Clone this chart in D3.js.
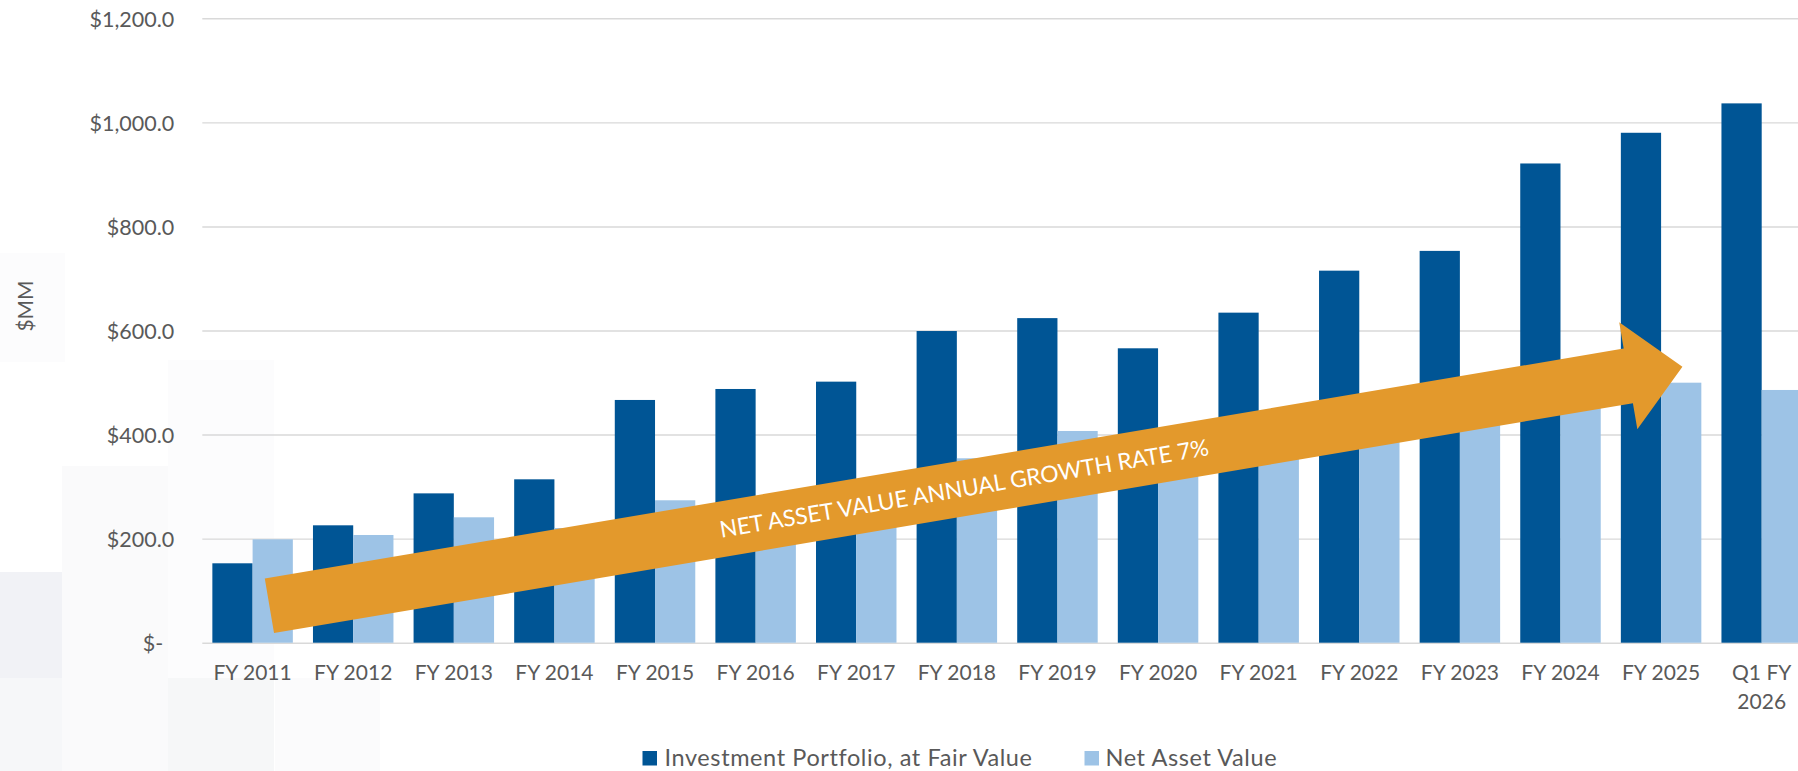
<!DOCTYPE html>
<html>
<head>
<meta charset="utf-8">
<script src="https://cdn.jsdelivr.net/npm/d3@7"></script>
<style>
  html, body { margin: 0; padding: 0; background: #ffffff; overflow: hidden; }
  svg { display: block; }
  text { font-family: "Lato", "Open Sans", sans-serif; }
</style>
</head>
<body>
<svg id="chart" width="1798" height="771"></svg>
<script>
// ---------------- DATA ----------------
const categories = ["FY 2011","FY 2012","FY 2013","FY 2014","FY 2015","FY 2016","FY 2017","FY 2018",
                    "FY 2019","FY 2020","FY 2021","FY 2022","FY 2023","FY 2024","FY 2025","Q1 FY 2026"];
const investmentPortfolio = [152.6, 225.6, 287.0, 314.0, 466.5, 487.6, 501.7, 599.0,
                             623.8, 565.8, 634.3, 715.0, 753.0, 921.0, 980.0, 1036.5];
const netAssetValue       = [198.7, 207.0, 241.0, 220.4, 273.7, 270.0, 300.0, 354.4,
                             406.9, 380.0, 410.0, 435.0, 435.0, 482.0, 499.7, 485.7];
const seriesNames = ["Investment Portfolio, at Fair Value", "Net Asset Value"];
const yTicks = [0, 200, 400, 600, 800, 1000, 1200];
const yAxisTitle = "$MM";
const arrowLabel = "NET ASSET VALUE ANNUAL GROWTH RATE 7%";
// annotation arrow anchored in data space: category + fraction of step, value
const arrowFrom = { cat: "FY 2011", off: 0.167, value: 71 };
const arrowTo   = { cat: "FY 2025", off: 0.212, value: 530.5 };

// ---------------- STYLE ----------------
const colors = ["#005595", "#9DC3E6"];
const arrowColor = "#E3992C";
const textColor = "#595959";
const gridColor = "#D9D9D9";

const svg = d3.select("#chart");
const W = 1798, H = 771;

// faint background blocks (decorative)
const bg = svg.append("g");
[[0,572,62,106,"#F1F2F6"],[0,678,62,93,"#F6F7F9"],[62,466,106,305,"#FAFAFB"],
 [168,678,106,93,"#F6F7F8"],[168,360,106,318,"#FCFCFD"],[0,253,65,109,"#FCFCFD"],
 [275,678,105,93,"#FBFBFC"]].forEach(r => {
  bg.append("rect").attr("x", r[0]).attr("y", r[1]).attr("width", r[2]).attr("height", r[3]).attr("fill", r[4]);
});

// scales
const x0 = d3.scaleBand().domain(categories).range([202.3, 1812]).paddingInner(0.2).paddingOuter(0.1);
const x1 = d3.scaleBand().domain([0, 1]).range([0, x0.bandwidth()]).padding(0);
const y = d3.scaleLinear().domain([0, 1200]).range([642.7, 18.3]);

// y axis with gridlines
const plotLeft = 202.3;
const yAxis = d3.axisLeft(y).tickValues(yTicks)
  .tickFormat(d => d === 0 ? "$-" : d3.format("$,.1f")(d))
  .tickSize(-(W - plotLeft)).tickPadding(28);
const gy = svg.append("g").attr("transform", `translate(${plotLeft},0)`).call(yAxis);
gy.select(".domain").remove();
gy.selectAll(".tick line").attr("stroke", gridColor).attr("stroke-width", 1.4);
gy.selectAll(".tick text").attr("fill", textColor).style("font-size", "21.5px")
  .attr("dy", "0.36em")
  .attr("dx", d => d === 0 ? -11 : 0);

// y title
svg.append("text").attr("transform", "translate(25,306) rotate(-90)")
  .attr("text-anchor", "middle").attr("dy", "0.36em")
  .attr("fill", textColor).style("font-size", "21px").text(yAxisTitle);

// bars
const rows = categories.map((c, i) => ({ cat: c, vals: [investmentPortfolio[i], netAssetValue[i]] }));
const groups = svg.append("g").selectAll("g").data(rows).join("g")
  .attr("transform", d => `translate(${x0(d.cat)},0)`);
groups.selectAll("rect").data(d => d.vals.map((v, k) => ({ k, v }))).join("rect")
  .attr("x", d => x1(d.k)).attr("width", x1.bandwidth())
  .attr("y", d => y(d.v)).attr("height", d => y(0) - y(d.v))
  .attr("fill", d => colors[d.k]);

// x axis labels
const xAxis = d3.axisBottom(x0).tickSize(0).tickPadding(0);
const gx = svg.append("g").attr("transform", `translate(0,${y(0)})`).call(xAxis);
gx.select(".domain").remove();
gx.selectAll(".tick text").attr("fill", textColor).style("font-size", "21px")
  .attr("y", 30).attr("dy", "0.36em")
  .each(function(d) {
    const t = d3.select(this);
    if (d.startsWith("Q1")) {
      t.text(null);
      t.append("tspan").attr("x", 0).text("Q1 FY");
      t.append("tspan").attr("x", 0).attr("dy", "29px").text("2026");
    }
  });

// arrow annotation
const p0 = [x0(arrowFrom.cat) + x0.bandwidth() / 2 + arrowFrom.off * x0.step(), y(arrowFrom.value)];
const p1 = [x0(arrowTo.cat) + x0.bandwidth() / 2 + arrowTo.off * x0.step(), y(arrowTo.value)];
const dx = p1[0] - p0[0], dyv = p1[1] - p0[1];
const L = Math.hypot(dx, dyv);
const ang = Math.atan2(dyv, dx) * 180 / Math.PI;
const shaftHalf = 27.7, headLen = 54.9, headHalf = 54.3;
const arrowPts = [[0, -shaftHalf], [L - headLen, -shaftHalf], [L - headLen, -headHalf], [L, 0],
                  [L - headLen, headHalf], [L - headLen, shaftHalf], [0, shaftHalf]];
const ga = svg.append("g").attr("transform", `translate(${p0[0]},${p0[1]}) rotate(${ang})`);
ga.append("polygon").attr("points", arrowPts.map(p => p.join(",")).join(" ")).attr("fill", arrowColor);
ga.append("text").attr("x", L * 0.4917).attr("y", 0).attr("dy", "0.36em")
  .attr("text-anchor", "middle").attr("fill", "#ffffff").style("font-size", "22.8px")
  .text(arrowLabel);

// legend
const legend = svg.append("g");
const legendItems = [{ x: 642.5, tx: 664.5 }, { x: 1084.5, tx: 1105.5 }];
seriesNames.forEach((name, k) => {
  legend.append("rect").attr("x", legendItems[k].x).attr("y", 751).attr("width", 14.5).attr("height", 14.5)
    .attr("fill", colors[k]);
  legend.append("text").attr("x", legendItems[k].tx).attr("y", 758).attr("dy", "0.36em")
    .attr("fill", textColor).style("font-size", "23.5px").style("letter-spacing", "0.6px").text(name);
});
</script>
</body>
</html>
